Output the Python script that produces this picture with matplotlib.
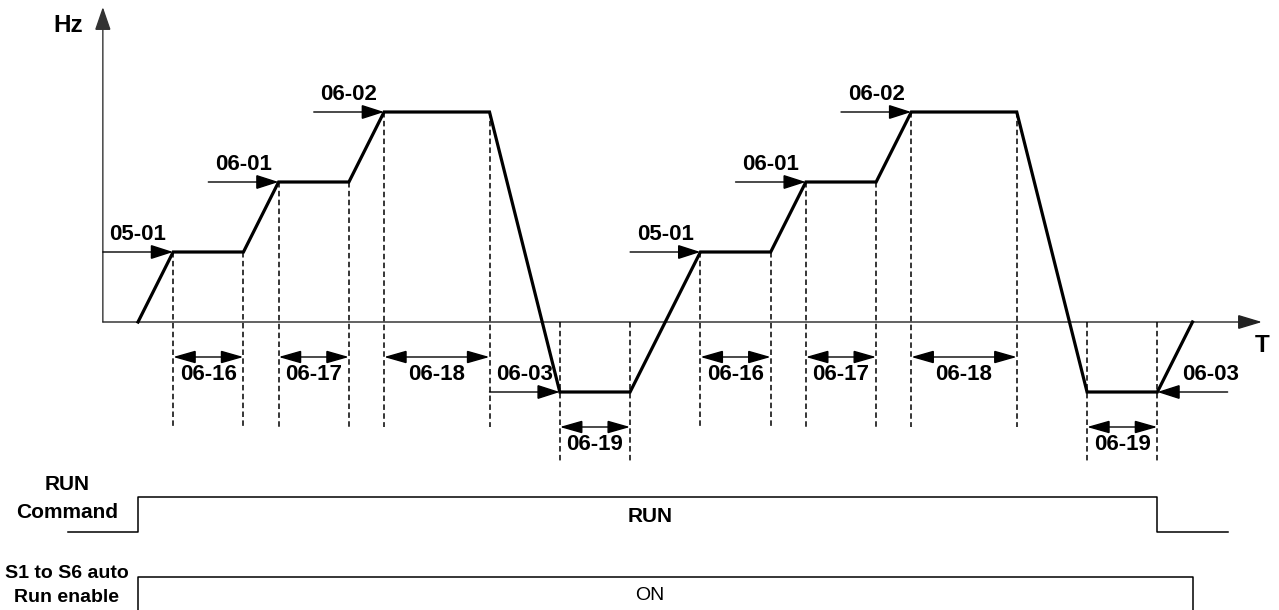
import matplotlib
matplotlib.use("Agg")
import matplotlib.pyplot as plt
from matplotlib.patches import FancyArrowPatch

plt.rcParams['font.family'] = ['Liberation Sans', 'DejaVu Sans']

# output frequency profile: time slots vs. speed step (0 = stop, -1 = reverse)
t_pts = [0, 1, 3, 4, 6, 7, 10, 12, 14, 16, 18, 19, 21, 22, 25, 27, 29, 30]
f_pts = [0, 1, 1, 2, 2, 3, 3, -1, -1, 1, 1, 2, 2, 3, 3, -1, -1, 0]

# frequency reference arrows
lvl_from = [-1, 2, 5, 10, 14, 17, 20, 31]
lvl_to = [1, 4, 7, 12, 16, 19, 22, 29]
lvl_val = [1, 2, 3, -1, 1, 2, 3, -1]
lvl_txt = ['05-01', '06-01', '06-02', '06-03', '05-01', '06-01', '06-02', '06-03']

# step timers
span_a = [1, 4, 7, 12, 16, 19, 22, 27]
span_b = [3, 6, 10, 14, 18, 21, 25, 29]
span_txt = ['06-16', '06-17', '06-18', '06-19', '06-16', '06-17', '06-18', '06-19']

# digital signals (on/off times)
run_on, run_off = 0, 29
auto_on, auto_off = 0, 30

W, H = 1279, 610
X0, DX = 138, 35.15      # pixel of t=0, pixels per time slot
Y0, DY = 322, 70         # pixel row of f=0, pixels per speed step

fig = plt.figure(figsize=(W / 100, H / 100), dpi=100)
ax = fig.add_axes([0, 0, 1, 1])
ax.set_xlim(-X0 / DX, (W - X0) / DX)
ax.set_ylim((Y0 - H) / DY, Y0 / DY)
ax.axis('off')


def arrow(p, q, style, lw=1.0, hl=14, hw=4.3, color='black'):
    a = FancyArrowPatch(p, q, arrowstyle=f'{style},head_length={hl},head_width={hw}',
                        mutation_scale=1, shrinkA=0, shrinkB=0, lw=lw,
                        color=color, joinstyle='miter')
    ax.add_patch(a)


def ftext(x, y, s, **kw):
    fig.text(x / W, 1 - y / H, s, ha='center', va='center', **kw)


# axes
arrow((-1, 0), (-1, (Y0 - 7) / DY), '-|>', lw=1.0, hl=14.5, hw=5, color='#333333')
arrow((-1, 0), ((1262 - X0) / DX, 0), '-|>', lw=1.0, hl=15, hw=4.5, color='#222222')
ftext(68, 25, 'Hz', fontsize=17.5, fontweight='bold')
ftext(1262, 345, 'T', fontsize=17.5, fontweight='bold')

# waveform
ax.plot(t_pts, f_pts, color='black', lw=2.3, solid_joinstyle='miter', zorder=5)

# dashed drop lines
for t, f in zip(t_pts[1:-1], f_pts[1:-1]):
    if f > 0:
        ax.plot([t, t], [f, -1.5], color='black', lw=1.1, dashes=(3.6, 2.2))
    else:
        ax.plot([t, t], [0, -2.0], color='black', lw=1.1, dashes=(3.6, 2.2))

# level reference arrows
for i, (a, b, v, s) in enumerate(zip(lvl_from, lvl_to, lvl_val, lvl_txt)):
    arrow((a, v), (b, v), '-|>', lw=1.0, hl=14, hw=4.5)
    dx = 18 if i == len(lvl_txt) - 1 else 0
    ax.annotate(s, xy=((a + b) / 2, v), xytext=(dx, 18), textcoords='offset pixels',
                ha='center', va='center', fontsize=16, fontweight='bold')

# timer spans
for a, b, s in zip(span_a, span_b, span_txt):
    y = -1.5 if f_pts[t_pts.index(a)] < 0 else -0.5
    arrow((a, y), (b, y), '<|-|>', lw=1.0, hl=14, hw=4.0)
    ax.annotate(s, xy=((a + b) / 2, y), xytext=(0, -17), textcoords='offset pixels',
                ha='center', va='center', fontsize=16, fontweight='bold')

# RUN command signal
hi, lo = (Y0 - 497) / DY, (Y0 - 532) / DY
ax.plot([-2, run_on, run_on, run_off, run_off, 31], [lo, lo, hi, hi, lo, lo],
        color='black', lw=1.1)
ftext(67, 485, 'RUN', fontsize=15, fontweight='bold')
ftext(67, 512, 'Command', fontsize=15, fontweight='bold')
ftext(650, 517, 'RUN', fontsize=15, fontweight='bold')

# S1..S6 auto run enable
top, bot = (Y0 - 577) / DY, (Y0 - 620) / DY
ax.plot([auto_on, auto_on, auto_off, auto_off], [bot, top, top, bot],
        color='black', lw=1.1)
ftext(67, 573, 'S1 to S6 auto', fontsize=14, fontweight='bold')
ftext(67, 597, 'Run enable', fontsize=14, fontweight='bold')
ftext(650, 596, 'ON', fontsize=14)

fig.savefig('out.png', dpi=100, facecolor='white')
